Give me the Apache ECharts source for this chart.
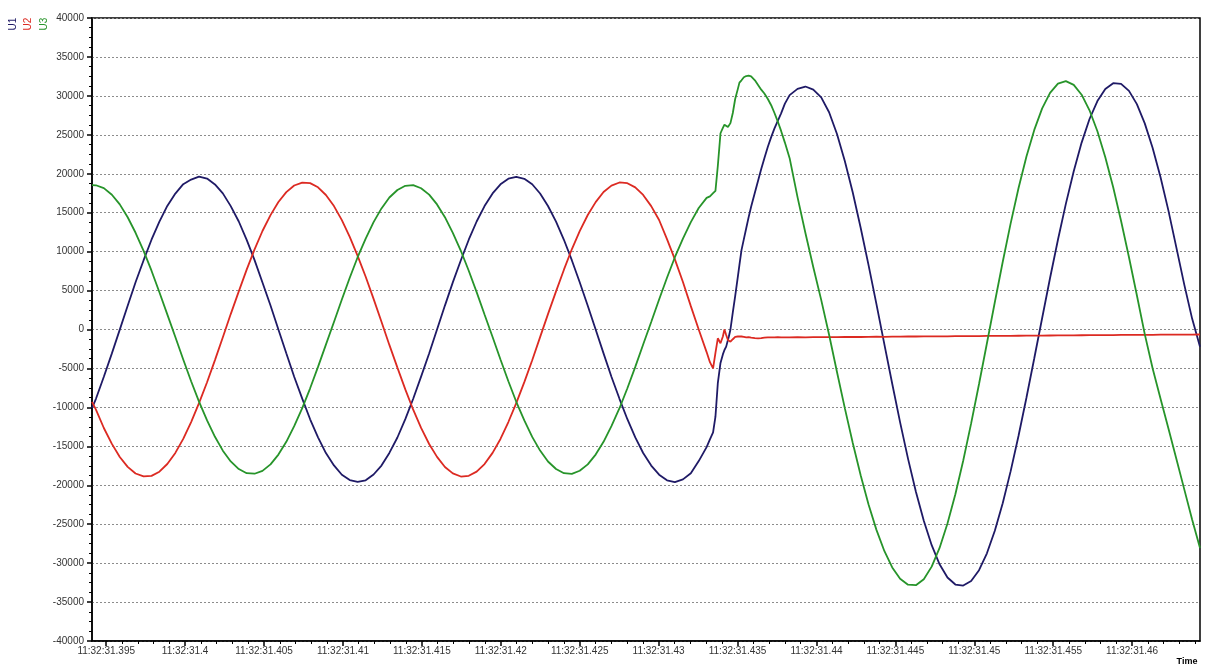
<!DOCTYPE html>
<html>
<head>
<meta charset="utf-8">
<script src="https://cdn.jsdelivr.net/npm/echarts@6/dist/echarts.min.js"></script>
<style>
  html, body { margin: 0; padding: 0; background: #ffffff; }
  #chart { width: 1206px; height: 667px; }
</style>
</head>
<body>
<div id="chart"></div>
<script>
// Sample times, in milliseconds after 11:32:31
const timeMs = [
  394.1,
  394.35, 394.85, 395.36, 395.86, 396.36, 396.86, 397.37, 397.87, 398.37, 398.87,
  399.38, 399.88, 400.38, 400.88, 401.39, 401.89, 402.39, 402.89, 403.4, 403.9,
  404.4, 404.9, 405.41, 405.91, 406.41, 406.91, 407.42, 407.92, 408.42, 408.92,
  409.43, 409.93, 410.43, 410.93, 411.44, 411.94, 412.44, 412.94, 413.45, 413.95,
  414.45, 414.95, 415.46, 415.96, 416.46, 416.96, 417.47, 417.97, 418.47, 418.97,
  419.48, 419.98, 420.48, 420.98, 421.49, 421.99, 422.49, 422.99, 423.5, 424.0,
  424.5, 425.0, 425.51, 426.01, 426.51, 427.01, 427.52, 428.02, 428.52, 429.02,
  429.53, 430.03, 430.53, 431.03, 431.54, 432.04, 432.54, 433.04,
  433.25, 433.45, 433.6, 433.75, 433.92, 434.07, 434.17, 434.28, 434.39, 434.45,
  434.55, 434.7, 434.85, 435.02, 435.12, 435.25, 435.4, 435.55, 435.7, 435.86,
  436.1, 436.3, 436.5, 436.7, 436.92, 437.13, 437.34, 437.55, 437.76, 438.0,
  438.3, 438.8, 439.3, 439.8, 440.3, 440.8, 441.3, 441.8, 442.3, 442.8,
  443.3, 443.8, 444.3, 444.8, 445.3, 445.8, 446.3, 446.8, 447.3, 447.8,
  448.3, 448.8, 449.3, 449.8, 450.3, 450.8, 451.3, 451.8, 452.3, 452.8,
  453.3, 453.8, 454.3, 454.8, 455.3, 455.8, 456.3, 456.8, 457.3, 457.8,
  458.3, 458.8, 459.3, 459.8, 460.3, 460.8, 461.3, 461.8, 462.3, 462.8,
  463.3, 463.8, 464.3
];

// Phase voltage U1
const u1 = [
  -10100,
  -8900, -6060, -3070, -20, 3050, 6070, 8900, 11530, 13850, 15870,
  17450, 18660, 19250, 19620, 19380, 18630, 17480, 15840, 13870, 11500,
  8910, 6040, 3080, 10, -3060, -6070, -8880, -11530, -13850, -15870,
  -17450, -18650, -19340, -19570, -19370, -18620, -17470, -15850, -13870, -11510,
  -8890, -6050, -3080, 0, 3070, 6050, 8890, 11530, 13870, 15850,
  17470, 18640, 19360, 19610, 19350, 18650, 17460, 15860, 13850, 11520,
  8900, 6060, 3060, -10, -3070, -6060, -8900, -11520, -13860, -15860,
  -17470, -18640, -19360, -19600, -19250, -18450, -16900, -15100,
  -14100, -13200, -11200, -6900, -4300, -3200, -2630, -2200, -1350, -900,
  0, 2200, 4300, 6800, 8300, 10200, 11600, 13000, 14400, 15770,
  17600, 19100, 20600, 22000, 23470, 24700, 25830, 26800, 27760, 29000,
  30100, 30900, 31200, 30800, 29800, 27900, 25100, 21600, 17600, 13060,
  8270, 3250, -1880, -6970, -11920, -16580, -20840, -24570, -27700, -30150,
  -31850, -32750, -32880, -32300, -30910, -28740, -25840, -22300, -18220, -13680,
  -8800, -3690, 1480, 6610, 11520, 16130, 20330, 24000, 27030, 29340,
  30890, 31630, 31550, 30640, 28940, 26470, 23310, 19540, 15260, 10550,
  5800, 1400, -2200
];

// Phase voltage U2
const u2 = [
  -9300,
  -10290, -12650, -14690, -16370, -17640, -18490, -18870, -18800, -18260, -17270,
  -15850, -14050, -11890, -9450, -6770, -3930, -990, 1980, 4890, 7690,
  10290, 12650, 14690, 16370, 17640, 18490, 18870, 18800, 18260, 17270,
  15850, 14050, 11890, 9450, 6770, 3930, 990, -1980, -4890, -7690,
  -10300, -12640, -14700, -16360, -17650, -18480, -18880, -18790, -18250, -17280,
  -15840, -14060, -11880, -9460, -6760, -3940, -980, 1970, 4900, 7680,
  10300, 12640, 14700, 16360, 17650, 18480, 18880, 18790, 18250, 17280,
  15840, 14060, 11600, 9000, 6100, 3000, 0, -2900,
  -4200, -4990, -3000, -1130, -1770, -900, 0, -700, -1350, -1500,
  -1560, -1250, -950, -900, -830, -900, -950, -1000, -980, -1050,
  -1100, -1130, -1100, -1050, -1000, -1020, -1000, -980, -1000, -1010,
  -1000, -980, -1000, -990, -980, -970, -980, -960, -950, -960,
  -940, -930, -940, -920, -910, -900, -900, -890, -880, -870,
  -870, -860, -850, -840, -840, -830, -820, -810, -810, -800,
  -790, -780, -780, -770, -760, -750, -750, -740, -730, -720,
  -720, -710, -700, -700, -690, -680, -680, -670, -660, -660,
  -650, -650, -640
];

// Phase voltage U3
const u3 = [
  18540,
  18520, 18150, 17310, 16070, 14410, 12420, 10100, 7550, 4790, 1940,
  -970, -3860, -6650, -9270, -11680, -13780, -15560, -16940, -17920, -18450,
  -18520, -18150, -17320, -16060, -14420, -12410, -10100, -7550, -4800, -1940,
  970, 3860, 6640, 9280, 11670, 13790, 15550, 16950, 17910, 18450,
  18530, 18140, 17320, 16060, 14420, 12410, 10110, 7540, 4800, 1930,
  -960, -3860, -6640, -9280, -11670, -13790, -15550, -16950, -17910, -18450,
  -18530, -18140, -17320, -16060, -14420, -12410, -10110, -7540, -4800, -1930,
  960, 3860, 6640, 9280, 11670, 13790, 15600, 16900,
  17100, 17500, 17800, 21000, 25200, 25900, 26300, 26100, 26000, 26100,
  26500, 27800, 29600, 30900, 31700, 32000, 32400, 32550, 32600, 32500,
  32000, 31400, 30800, 30300, 29600, 28800, 27800, 26700, 25500, 24000,
  22000, 17000, 12400, 8000, 3800, -670, -5460, -10130, -14580, -18720,
  -22470, -25730, -28440, -30550, -32000, -32770, -32830, -32060, -30450, -28050,
  -24920, -21150, -16820, -12060, -7000, -1770, 3500, 8670, 13590, 18130,
  22190, 25630, 28400, 30390, 31570, 31890, 31410, 30150, 28150, 25450,
  22130, 18260, 13940, 9280, 4400, -600, -5000, -8900, -12700, -16600,
  -20500, -24400, -28050
];

// Labelled time ticks (ms after 11:32:31)
const majorTicks = [395, 400, 405, 410, 415, 420, 425, 430, 435, 440, 445, 450, 455, 460];

const seriesNames = ['U1', 'U2', 'U3'];
const seriesColors = ['#1f1a66', '#dc2a22', '#27942a'];
const seriesValues = [u1, u2, u3];

const X_MIN = 394.1, X_MAX = 464.3;

// one short tick for every millisecond between the labelled ones
const minorTicks = [];
for (let m = 395; m <= 464; m++) {
  if (m % 5 !== 0) minorTicks.push(m);
}

const fontFamily = '"Liberation Sans", Arial, sans-serif';

function pairs(vals) {
  return timeMs.map((t, i) => [t, vals[i]]);
}

function timeLabel(v) {
  return '11:32:31' + String(+(v / 1000).toFixed(3)).slice(1);
}

const chart = echarts.init(document.getElementById('chart'), null, { renderer: 'canvas' });

const option = {
  animation: false,
  backgroundColor: '#ffffff',
  grid: {
    left: 92, right: 6, top: 18, bottom: 26,
    show: true, borderColor: '#000000', borderWidth: 1.5,
    backgroundColor: 'transparent'
  },
  xAxis: [
    {
      type: 'value', min: X_MIN, max: X_MAX, position: 'bottom',
      axisLine: { show: true, onZero: false, lineStyle: { color: '#000000', width: 1.5 } },
      axisTick: { show: true, customValues: majorTicks, length: 5, lineStyle: { color: '#000000', width: 1.5 } },
      axisLabel: {
        customValues: majorTicks, formatter: timeLabel,
        color: '#333333', fontSize: 10, fontFamily: fontFamily, margin: 5
      },
      splitLine: { show: false }
    },
    {
      type: 'value', min: X_MIN, max: X_MAX, position: 'bottom',
      axisLine: { show: false, onZero: false },
      axisTick: { show: true, customValues: minorTicks, length: 3, lineStyle: { color: '#000000', width: 1 } },
      axisLabel: { show: false },
      splitLine: { show: false }
    }
  ],
  yAxis: {
    type: 'value', min: -40000, max: 40000, interval: 5000,
    axisLine: { show: true, onZero: false, lineStyle: { color: '#000000', width: 1.5 } },
    axisTick: { show: true, length: 5, lineStyle: { color: '#000000', width: 1.5 } },
    minorTick: { show: true, splitNumber: 4, length: 3, lineStyle: { color: '#000000', width: 1 } },
    axisLabel: {
      formatter: v => String(v),
      color: '#333333', fontSize: 10, fontFamily: fontFamily, margin: 8
    },
    splitLine: { show: true, lineStyle: { color: '#8c8c8c', width: 1, type: [2, 2] } }
  },
  graphic: [
    ...seriesNames.map((name, i) => ({
      type: 'text',
      x: 13 + i * 15.5, y: 24,
      rotation: Math.PI / 2,
      style: {
        text: name, fill: seriesColors[i],
        fontSize: 10, fontFamily: fontFamily,
        align: 'center', verticalAlign: 'middle'
      }
    })),
    {
      type: 'text', x: 1187, y: 662,
      style: {
        text: 'Time', fill: '#000000',
        fontSize: 9, fontWeight: 'bold', fontFamily: fontFamily,
        align: 'center', verticalAlign: 'middle'
      }
    }
  ],
  series: seriesNames.map((name, i) => ({
    name: name,
    type: 'line',
    xAxisIndex: 0,
    data: pairs(seriesValues[i]),
    showSymbol: false,
    symbol: 'none',
    clip: true,
    lineStyle: { color: seriesColors[i], width: 1.8 },
    itemStyle: { color: seriesColors[i] }
  }))
};

chart.setOption(option);
</script>
</body>
</html>
